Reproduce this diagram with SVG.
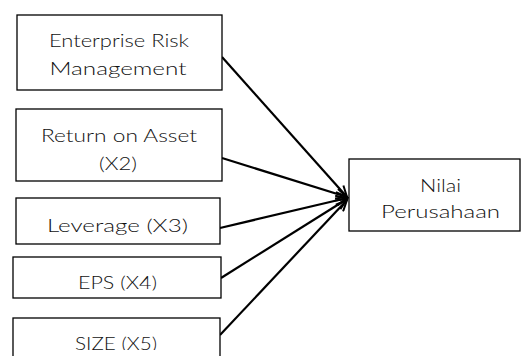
<svg xmlns="http://www.w3.org/2000/svg" width="521" height="356" viewBox="0 0 521 356">
<style>
.box{fill:#fff;stroke:#000;stroke-width:1.3}
.t{font-family:Lato,"Liberation Sans",sans-serif;font-size:18.5px;font-weight:300;fill:#111;text-anchor:middle}
.c{stroke:#000;stroke-width:2.2;fill:none;marker-end:url(#ah)}
</style>
<defs>
<marker id="ah" markerWidth="14" markerHeight="12" refX="12" refY="6" orient="auto" markerUnits="userSpaceOnUse">
<path d="M1,1 L12,6 L1,11" fill="none" stroke="#000" stroke-width="2"/>
</marker>
<clipPath id="c4"><rect x="0" y="0" width="521" height="290.5"/></clipPath>
<clipPath id="c5"><rect x="0" y="0" width="521" height="350"/></clipPath>
</defs>
<rect width="521" height="356" fill="#fff"/>
<g id="connectors">
<line class="c" x1="222" y1="57" x2="347" y2="197"/>
<line class="c" x1="222" y1="158" x2="347" y2="197"/>
<line class="c" x1="220" y1="228" x2="347" y2="198"/>
<line class="c" x1="221" y1="278" x2="347" y2="199"/>
<line class="c" x1="220" y1="335" x2="347" y2="200"/>
</g>
<g id="erm">
<rect class="box" x="17" y="15" width="205" height="75"/>
<text class="t" x="119" y="46.7" textLength="140" lengthAdjust="spacingAndGlyphs">Enterprise Risk</text>
<text class="t" x="118" y="75" textLength="137" lengthAdjust="spacingAndGlyphs">Management</text>
</g>
<g id="roa">
<rect class="box" x="16" y="109" width="206" height="72"/>
<text class="t" x="119" y="141.7" textLength="156" lengthAdjust="spacingAndGlyphs">Return on Asset</text>
<text class="t" x="118" y="170" textLength="38" lengthAdjust="spacingAndGlyphs">(X2)</text>
</g>
<g id="lev">
<rect class="box" x="16" y="198" width="204" height="46"/>
<text class="t" x="117.5" y="231.7" textLength="141" lengthAdjust="spacingAndGlyphs">Leverage (X3)</text>
</g>
<g id="eps">
<rect class="box" x="13" y="257" width="208" height="41"/>
<text class="t" x="117.5" y="289" textLength="79" lengthAdjust="spacingAndGlyphs" clip-path="url(#c4)">EPS (X4)</text>
</g>
<g id="size">
<rect class="box" x="13" y="318" width="207" height="50"/>
<text class="t" x="116" y="350" textLength="82" lengthAdjust="spacingAndGlyphs" clip-path="url(#c5)">SIZE (X5)</text>
</g>
<g id="nilai">
<rect class="box" x="349" y="159" width="171" height="72"/>
<text class="t" x="440.5" y="191.7" textLength="41" lengthAdjust="spacingAndGlyphs">Nilai</text>
<text class="t" x="440.5" y="218.3" textLength="119" lengthAdjust="spacingAndGlyphs">Perusahaan</text>
</g>
</svg>
